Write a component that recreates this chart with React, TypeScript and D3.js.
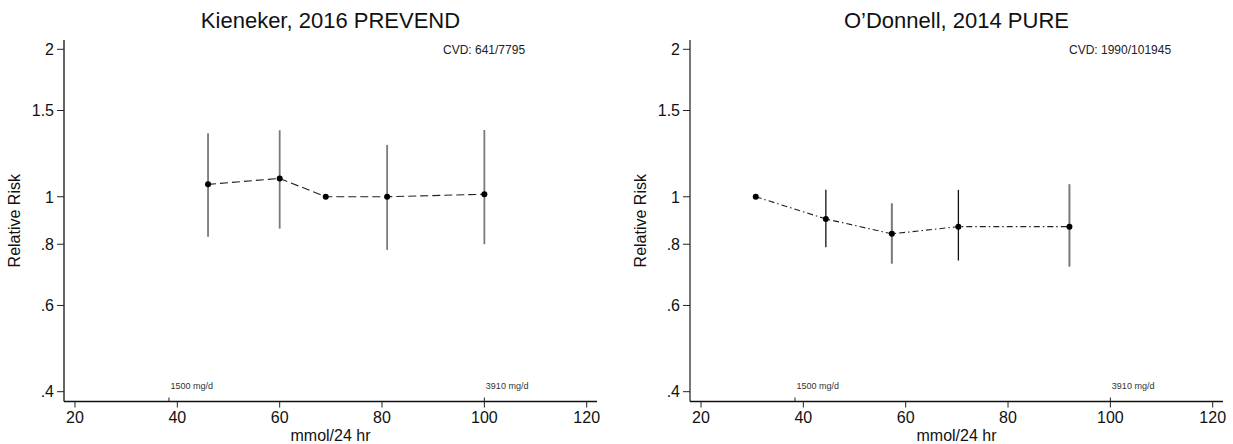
import React from "react";
import * as d3 from "d3";

const panelTitles = ["Kieneker, 2016 PREVEND", "O\u2019Donnell, 2014 PURE"];
const cvdLabels = ["CVD: 641/7795", "CVD: 1990/101945"];

const kienekerX = [46, 60, 69, 81, 100];
const kienekerRR = [1.06, 1.09, 1.0, 1.0, 1.012];
const kienekerLo = [0.829, 0.861, null, 0.779, 0.8];
const kienekerHi = [1.348, 1.367, null, 1.276, 1.369];

const odonnellX = [30.7, 44.4, 57.3, 70.3, 92.0];
const odonnellRR = [1.0, 0.901, 0.84, 0.869, 0.869];
const odonnellLo = [null, 0.789, 0.73, 0.741, 0.72];
const odonnellHi = [null, 1.033, 0.97, 1.033, 1.061];

const yTicks = [0.4, 0.6, 0.8, 1, 1.5, 2];
const yTickLabels = [".4", ".6", ".8", "1", "1.5", "2"];
const xTicks = [20, 40, 60, 80, 100, 120];
const refValues = [1500 / 39.1, 3910 / 39.1];
const refLabels = ["1500 mg/d", "3910 mg/d"];

const yLabel = "Relative Risk";
const xLabel = "mmol/24 hr";

const FONT = "'Liberation Sans', Arial, Helvetica, sans-serif";

type PanelProps = {
  offset: number;
  title: string;
  cvd: string;
  xs: number[];
  rr: number[];
  lo: (number | null)[];
  hi: (number | null)[];
  variant: number;
};

function Panel({ offset, title, cvd, xs, rr, lo, hi, variant }: PanelProps) {
  const x = d3.scaleLinear().domain([20, 120]).range([75, 586.7]);
  const y = d3.scaleLog().domain([0.4, 2]).range([391.7, 49.3]);
  const axisY = 401.5;
  const axisX = 64;
  const plotRight = 597;
  const pts = xs.map((v, i) => [x(v), y(rr[i])] as [number, number]);
  const line = d3.line()(pts) || "";
  const barColor = (i: number) =>
    variant === 0 ? "#7a7a7a" : i % 2 === 1 ? "#111" : "#7a7a7a";
  const barWidth = (i: number) => (variant === 0 ? 1.8 : i % 2 === 1 ? 1.3 : 2);
  return (
    <g transform={`translate(${offset},0)`} fontFamily={FONT}>
      <text x={(axisX + plotRight) / 2} y={28} textAnchor="middle" fontSize={22} fill="#111">
        {title}
      </text>
      <text x={443} y={54} fontSize={12} fill="#222">
        {cvd}
      </text>
      {/* y axis */}
      <line x1={axisX} x2={axisX} y1={40} y2={axisY} stroke={variant === 0 ? "#111" : "#777"} strokeWidth={variant === 0 ? 1.3 : 2} />
      {yTicks.map((t, i) => (
        <g key={"yt" + i}>
          <line x1={axisX - 7} x2={axisX} y1={y(t)} y2={y(t)} stroke="#222" strokeWidth={1} />
          <text x={axisX - 10} y={y(t)} dy="0.36em" textAnchor="end" fontSize={16} fill="#111">
            {yTickLabels[i]}
          </text>
        </g>
      ))}
      <text
        transform={`translate(20,${(40 + axisY) / 2}) rotate(-90)`}
        textAnchor="middle"
        fontSize={16}
        fill="#111"
      >
        {yLabel}
      </text>
      {/* x axis */}
      <line x1={axisX} x2={plotRight} y1={axisY} y2={axisY} stroke="#111" strokeWidth={1.3} />
      {xTicks.map((t, i) => (
        <g key={"xt" + i}>
          <line x1={x(t)} x2={x(t)} y1={axisY} y2={axisY + 6} stroke="#222" strokeWidth={1} />
          <text x={x(t)} y={423} textAnchor="middle" fontSize={16} fill="#111">
            {t}
          </text>
        </g>
      ))}
      <text x={(axisX + plotRight) / 2} y={441} textAnchor="middle" fontSize={16} fill="#111">
        {xLabel}
      </text>
      {refValues.map((v, i) => (
        <g key={"rf" + i}>
          <line x1={x(v)} x2={x(v)} y1={axisY - 4} y2={axisY} stroke="#222" strokeWidth={1} />
          <text x={x(v) + 1.5} y={389} fontSize={9} fill="#333">
            {refLabels[i]}
          </text>
        </g>
      ))}
      {/* error bars */}
      {xs.map((v, i) =>
        lo[i] != null && hi[i] != null ? (
          <line
            key={"eb" + i}
            x1={x(v)}
            x2={x(v)}
            y1={y(hi[i] as number)}
            y2={y(lo[i] as number)}
            stroke={barColor(i)}
            strokeWidth={barWidth(i)}
          />
        ) : null
      )}
      <path
        d={line}
        fill="none"
        stroke="#222"
        strokeWidth={1.1}
        strokeDasharray={variant === 0 ? "8,4" : "6,3,1.5,3"}
      />
      {pts.map((p, i) => (
        <circle key={"pt" + i} cx={p[0]} cy={p[1]} r={3} fill="#000" />
      ))}
    </g>
  );
}

export default function App() {
  return (
    <svg
      width={1233}
      height={444}
      style={{ position: "absolute", left: 0, top: 0, background: "#fff" }}
    >
      <rect width={1233} height={444} fill="#fff" />
      <Panel
        offset={0}
        title={panelTitles[0]}
        cvd={cvdLabels[0]}
        xs={kienekerX}
        rr={kienekerRR}
        lo={kienekerLo}
        hi={kienekerHi}
        variant={0}
      />
      <Panel
        offset={626}
        title={panelTitles[1]}
        cvd={cvdLabels[1]}
        xs={odonnellX}
        rr={odonnellRR}
        lo={odonnellLo}
        hi={odonnellHi}
        variant={1}
      />
    </svg>
  );
}
